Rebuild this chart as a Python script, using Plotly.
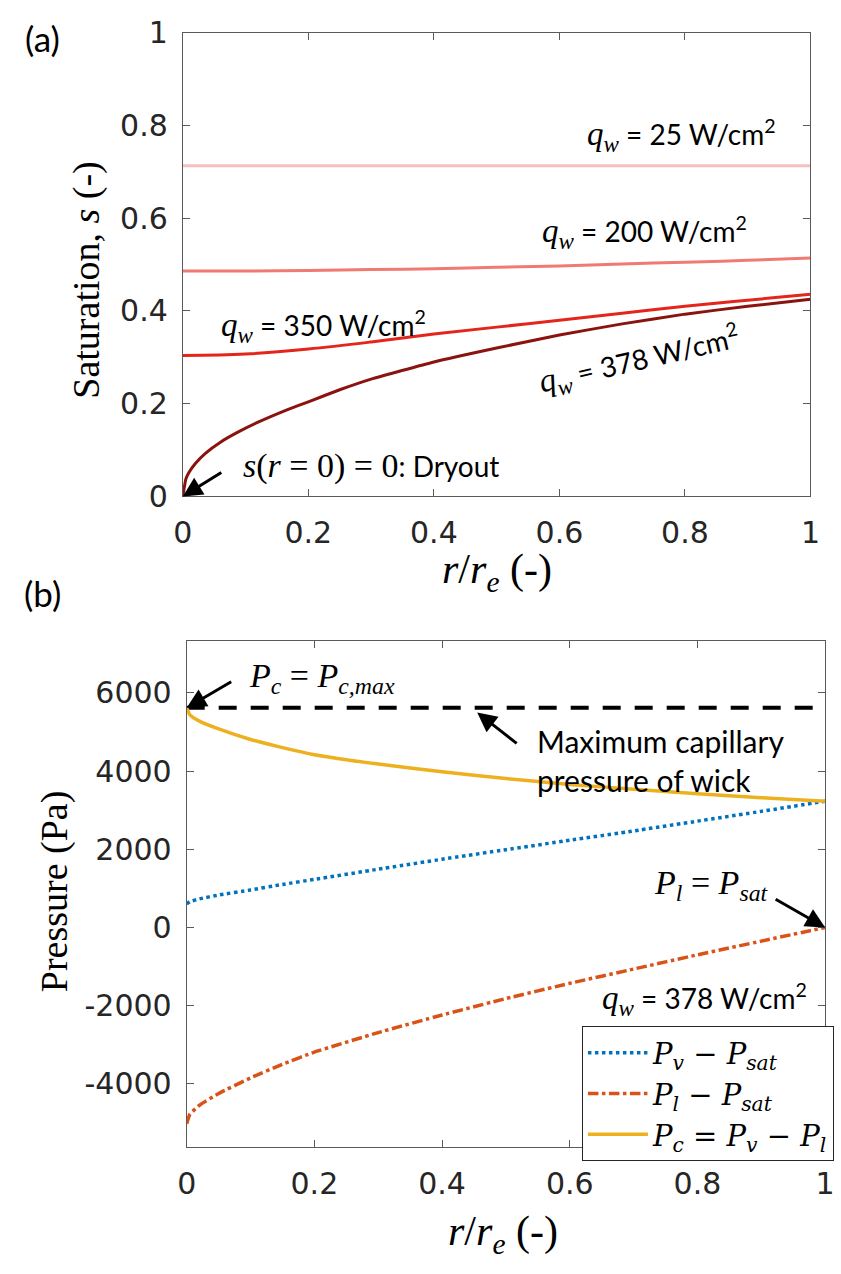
import plotly.graph_objects as go

W, H = 841, 1274

# ---------------- data (a) ----------------
x_378 = [0, 0.005, 0.01, 0.02, 0.036, 0.06, 0.087, 0.12, 0.165, 0.2, 0.25, 0.3, 0.4, 0.5, 0.6, 0.7, 0.8, 0.9, 1.0]
s_378 = [0, 0.038, 0.052, 0.071, 0.093, 0.117, 0.138, 0.16, 0.186, 0.204, 0.23, 0.253, 0.29, 0.32, 0.348, 0.372, 0.393, 0.41, 0.425]
x_a = [0, 0.1, 0.2, 0.3, 0.4, 0.5, 0.6, 0.7, 0.8, 0.9, 1.0]
s_350 = [0.304, 0.307, 0.318, 0.333, 0.35, 0.365, 0.38, 0.395, 0.41, 0.423, 0.436]
s_200 = [0.486, 0.486, 0.487, 0.489, 0.491, 0.494, 0.497, 0.501, 0.505, 0.509, 0.514]
s_25 = [0.713, 0.713, 0.713, 0.713, 0.713, 0.713, 0.713, 0.713, 0.713, 0.713, 0.713]

# ---------------- data (b) ----------------
x_b = [0, 0.005, 0.02, 0.05, 0.1, 0.15, 0.2, 0.3, 0.4, 0.5, 0.6, 0.7, 0.8, 0.9, 1.0]
p_c = [5620, 5440, 5280, 5080, 4810, 4600, 4420, 4180, 3985, 3810, 3660, 3535, 3420, 3320, 3230]
p_v = [600, 660, 730, 830, 960, 1100, 1230, 1490, 1745, 1990, 2230, 2470, 2720, 2970, 3230]
p_l = [-5020, -4780, -4550, -4250, -3850, -3500, -3190, -2690, -2240, -1820, -1430, -1065, -700, -350, 0]
x_max = [0, 1]
p_cmax = [5620, 5620]

a_ticks = [0, 0.2, 0.4, 0.6, 0.8, 1]
b_yticks = [-4000, -2000, 0, 2000, 4000, 6000]
b_yticktext = ["-4000", "-2000", "0", "2000", "4000", "6000"]

SANS = "DejaVu Sans"
SERIF = "Liberation Serif"
TXT = "Lato"
AX = "#262626"


def pxx(px):
    return px / W


def pxy(py):
    return 1 - py / H


fig = go.Figure()

# (a) traces
fig.add_trace(go.Scatter(x=x_a, y=s_25, mode="lines", line=dict(color="#F8BFC0", width=3),
                         xaxis="x", yaxis="y", showlegend=False))
fig.add_trace(go.Scatter(x=x_a, y=s_200, mode="lines", line=dict(color="#F07A72", width=3, shape="spline"),
                         xaxis="x", yaxis="y", showlegend=False))
fig.add_trace(go.Scatter(x=x_a, y=s_350, mode="lines", line=dict(color="#E4251B", width=3, shape="spline"),
                         xaxis="x", yaxis="y", showlegend=False))
fig.add_trace(go.Scatter(x=x_378, y=s_378, mode="lines", line=dict(color="#8A1310", width=3, shape="spline", smoothing=0.4),
                         xaxis="x", yaxis="y", showlegend=False))

# (b) traces
fig.add_trace(go.Scatter(x=x_max, y=p_cmax, mode="lines", line=dict(color="black", width=4, dash="18px,14px"),
                         xaxis="x2", yaxis="y2", showlegend=False))
fig.add_trace(go.Scatter(x=x_b, y=p_v, mode="lines", name="<i>P</i><sub><i>v</i></sub> \u2212 <i>P</i><sub><i>sat</i></sub>",
                         line=dict(color="#0072BD", width=3.5, dash="dot", shape="spline", smoothing=0.4),
                         xaxis="x2", yaxis="y2"))
fig.add_trace(go.Scatter(x=x_b, y=p_l, mode="lines", name="<i>P</i><sub><i>l</i></sub> \u2212 <i>P</i><sub><i>sat</i></sub>",
                         line=dict(color="#D95319", width=3.5, dash="dashdot", shape="spline", smoothing=0.4),
                         xaxis="x2", yaxis="y2"))
fig.add_trace(go.Scatter(x=x_b, y=p_c, mode="lines", name="<i>P</i><sub><i>c</i></sub> = <i>P</i><sub><i>v</i></sub> \u2212 <i>P</i><sub><i>l</i></sub>",
                         line=dict(color="#EDB120", width=3.5, shape="spline", smoothing=0.4),
                         xaxis="x2", yaxis="y2"))

axis_common = dict(showline=True, linecolor="#5a5a5a", linewidth=1, mirror="ticks", ticks="inside",
                   ticklen=7, tickcolor="#5a5a5a", showgrid=False, zeroline=False,
                   ticklabeloverflow="allow",
                   tickfont=dict(family=SANS, size=30, color=AX))

fig.update_layout(
    width=W, height=H, margin=dict(l=0, r=0, t=0, b=0),
    paper_bgcolor="white", plot_bgcolor="white",
    xaxis=dict(domain=[pxx(177), pxx(820)], anchor="y", range=[0, 1], tickvals=a_ticks,
               ticklabelstandoff=10, **axis_common),
    yaxis=dict(domain=[pxy(493), pxy(16)], anchor="x", range=[0, 1], tickvals=a_ticks,
               ticklabelstandoff=8, **axis_common),
    xaxis2=dict(domain=[pxx(181), pxx(835)], anchor="y2", range=[0, 1], tickvals=a_ticks,
                ticklabelstandoff=10, **axis_common),
    yaxis2=dict(domain=[pxy(1162), pxy(642)], anchor="x2", range=[-5620, 7320], tickvals=b_yticks,
                ticktext=b_yticktext, ticklabelstandoff=8, **axis_common),
    legend=dict(x=pxx(844), y=pxy(1038), xanchor="right", yanchor="top",
                bordercolor="#262626", borderwidth=1, bgcolor="white",
                font=dict(family="DejaVu Serif", size=29, color="black"), itemwidth=60,
                tracegroupgap=0),
)

ann = []


def pa(text, x, y, size=28, family=TXT, xanchor="center", angle=0, align="center"):
    ann.append(dict(text=text, x=pxx(x), y=pxy(y), xref="paper", yref="paper", showarrow=False,
                    font=dict(family=family, size=size, color="black"), xanchor=xanchor,
                    yanchor="middle", textangle=angle, align=align))


# panel labels
pa("(a)", 33, 22, size=35)
pa("(b)", 33, 592, size=35)

# axis titles
pa("Saturation, <i>s</i> (-)", 78, 271, size=38, family=SERIF, angle=-90)
pa("Pressure (Pa)", 45, 899, size=38, family=SERIF, angle=-90)
pa("<i>r</i>/<i>r</i><sub><i>e</i></sub> (-)", 499, 571, size=42, family=SERIF)
pa("<i>r</i>/<i>r</i><sub><i>e</i></sub> (-)", 505, 1251, size=42, family=SERIF)

qw = "<span style=\"font-family:'Liberation Serif'; font-size:33px\"><i>q</i><sub><i>w</i></sub></span>"

pa(qw + " = 25 W/cm<sup>2</sup>", 787, 122, xanchor="right")
pa(qw + " = 200 W/cm<sup>2</sup>", 757, 222, xanchor="right")
pa(qw + " = 350 W/cm<sup>2</sup>", 321, 318)
pa(qw + " = 378 W/cm<sup>2</sup>", 645, 353, angle=-13)
pa("<span style=\"font-family:'Liberation Serif'; font-size:34px\"><i>s</i>(<i>r</i> = 0) = 0</span>: Dryout",
   237, 462, xanchor="left")

pa("<i>P</i><sub><i>c</i></sub> = <i>P</i><sub><i>c,max</i></sub>", 243, 680, size=34, family=SERIF, xanchor="left")
pa("Maximum capillary<br>pressure of wick", 538, 764, size=30, xanchor="left", align="left")
pa("<i>P</i><sub><i>l</i></sub> = <i>P</i><sub><i>sat</i></sub>", 658, 893, size=34, family=SERIF, xanchor="left")
pa(qw + " = 378 W/cm<sup>2</sup>", 818, 1010, xanchor="right")

# arrows (head at data point, tail offset in pixels)
arrow = dict(showarrow=True, text="", arrowhead=2, arrowsize=1.3, arrowwidth=3, arrowcolor="black")
ann.append(dict(x=0, y=0, xref="x", yref="y", ax=40, ay=-25, **arrow))
ann.append(dict(x=0, y=5620, xref="x2", yref="y2", ax=46, ay=-27, **arrow))
ann.append(dict(x=0.455, y=5500, xref="x2", yref="y2", ax=41, ay=32, **arrow))
ann.append(dict(x=1, y=0, xref="x2", yref="y2", ax=-51, ay=-29, **arrow))

fig.update_layout(annotations=ann)

fig.write_html("out.html")
